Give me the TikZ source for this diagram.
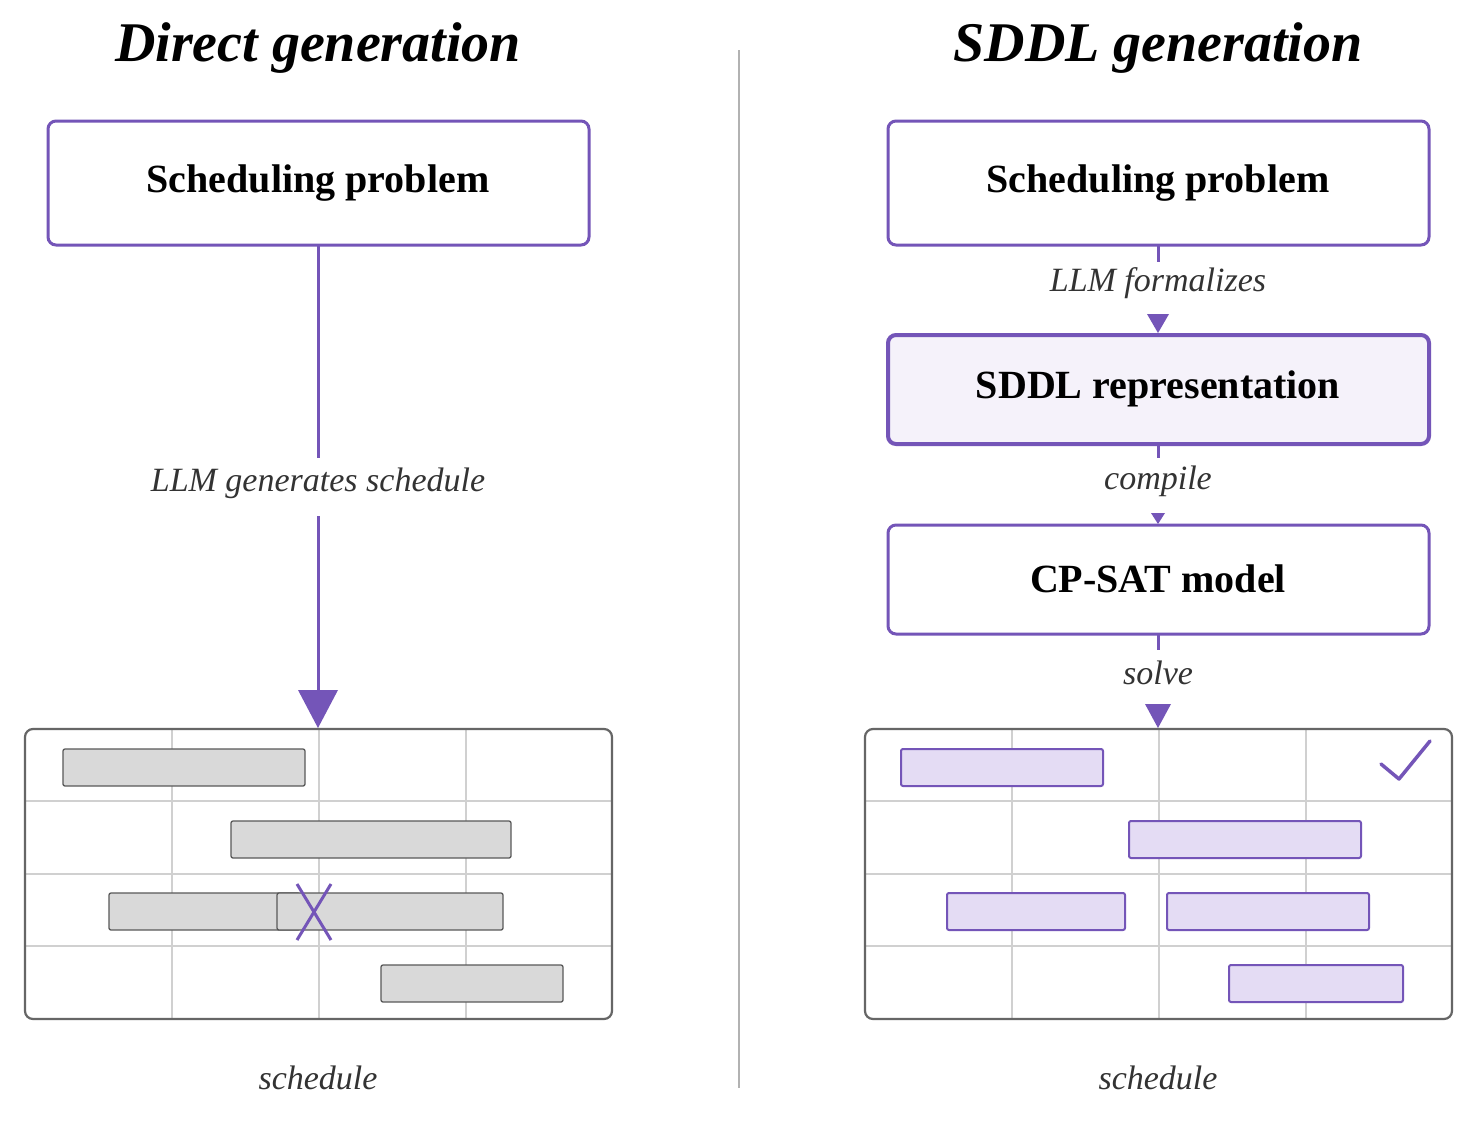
\documentclass[tikz,border=0pt]{standalone}
\usepackage{fontspec}
\setmainfont{Liberation Serif}
\usetikzlibrary{arrows.meta}
\definecolor{pur}{HTML}{7455B8}
\definecolor{lav}{HTML}{F5F2FA}
\definecolor{barp}{HTML}{E4DCF4}
\definecolor{barg}{HTML}{D9D9D9}
\definecolor{gridc}{HTML}{D0D0D0}
\begin{document}
\begin{tikzpicture}[x=1pt,y=-1pt,
 box/.style={draw=pur,line width=3pt,rounded corners=8pt,fill=white,font=\fontsize{40}{44}\selectfont\bfseries},
 lbl/.style={font=\fontsize{34}{38}\selectfont\itshape,text=black!80},
 ttl/.style={font=\fontsize{56}{60}\selectfont\bfseries\itshape},
 conn/.style={draw=pur,line width=3pt},
 gbar/.style={draw=black!65,fill=barg,line width=1.3pt,rounded corners=2pt},
 pbar/.style={draw=pur,fill=barp,line width=2pt,rounded corners=2pt},
 frame/.style={draw=black!60,line width=2.2pt,rounded corners=8pt}]
\useasboundingbox (0,0) rectangle (1481,1128);
\fill[white] (0,0) rectangle (1481,1128);
% titles
\node[ttl] (t1) at (318,48) {Direct generation};
\node[ttl] (t2) at (1158,48) {SDDL generation};
\draw[black!30,line width=2pt] (739,50) -- (739,1088);
% left
\draw[box] (48,121) rectangle (589,245);
\node[font=\fontsize{40}{44}\selectfont\bfseries] (p1) at (318,183) {Scheduling problem};
\node[lbl] (l1) at (318,483) {LLM generates schedule};
\coordinate (a1) at (318,245);
\coordinate (a2) at (318,728);
\draw[conn] (a1) -- (318,458);
\draw[conn] (318,516) -- (318,692);
\fill[pur] (298,690) -- (338,690) -- (318,728) -- cycle;
% left gantt
\foreach \y in {801,874,946} \draw[gridc,line width=1.2pt] (25,\y) -- (612,\y);
\foreach \x in {172,319,466} \draw[gridc,line width=1.2pt] (\x,729) -- (\x,1019);
\draw[frame] (25,729) rectangle (612,1019);
\draw[gbar] (63,749) rectangle (305,786);
\draw[gbar] (231,821) rectangle (511,858);
\draw[gbar] (109,893) rectangle (300,930);
\draw[gbar] (277,893) rectangle (503,930);
\draw[gbar] (381,965) rectangle (563,1002);
\draw[pur,line width=3pt] (297,884) -- (331,940) (331,884) -- (297,940);
\node[lbl] (s1) at (318,1078) {schedule};
% right
\draw[box] (888,121) rectangle (1429,245);
\node[font=\fontsize{40}{44}\selectfont\bfseries] at (1158,183) {Scheduling problem};
\draw[box,fill=lav,line width=4pt] (888,335) rectangle (1429,444);
\node[font=\fontsize{40}{44}\selectfont\bfseries] at (1158,389) {SDDL representation};
\draw[box] (888,525) rectangle (1429,634);
\node[font=\fontsize{40}{44}\selectfont\bfseries] at (1158,579) {CP-SAT model};
\node[lbl] at (1158,283) {LLM formalizes};
\node[lbl] at (1158,481) {compile};
\node[lbl] at (1158,673) {solve};
\draw[conn] (1158,245) -- (1158,262);
\draw[conn] (1158,444) -- (1158,458);
\draw[conn] (1158,634) -- (1158,650);
\fill[pur] (1147,314) -- (1169,314) -- (1158,333) -- cycle;
\fill[pur] (1151,513) -- (1165,513) -- (1158,524) -- cycle;
\fill[pur] (1145,704) -- (1171,704) -- (1158,728) -- cycle;
% right gantt
\foreach \y in {801,874,946} \draw[gridc,line width=1.2pt] (865,\y) -- (1452,\y);
\foreach \x in {1012,1159,1306} \draw[gridc,line width=1.2pt] (\x,729) -- (\x,1019);
\draw[frame] (865,729) rectangle (1452,1019);
\draw[pbar] (901,749) rectangle (1103,786);
\draw[pbar] (1129,821) rectangle (1361,858);
\draw[pbar] (947,893) rectangle (1125,930);
\draw[pbar] (1167,893) rectangle (1369,930);
\draw[pbar] (1229,965) rectangle (1403,1002);
\draw[pur,line width=3.5pt,line cap=round,line join=round] (1381,764) -- (1399,779) -- (1430,741);
\node[lbl] at (1158,1078) {schedule};
\end{tikzpicture}
\end{document}
